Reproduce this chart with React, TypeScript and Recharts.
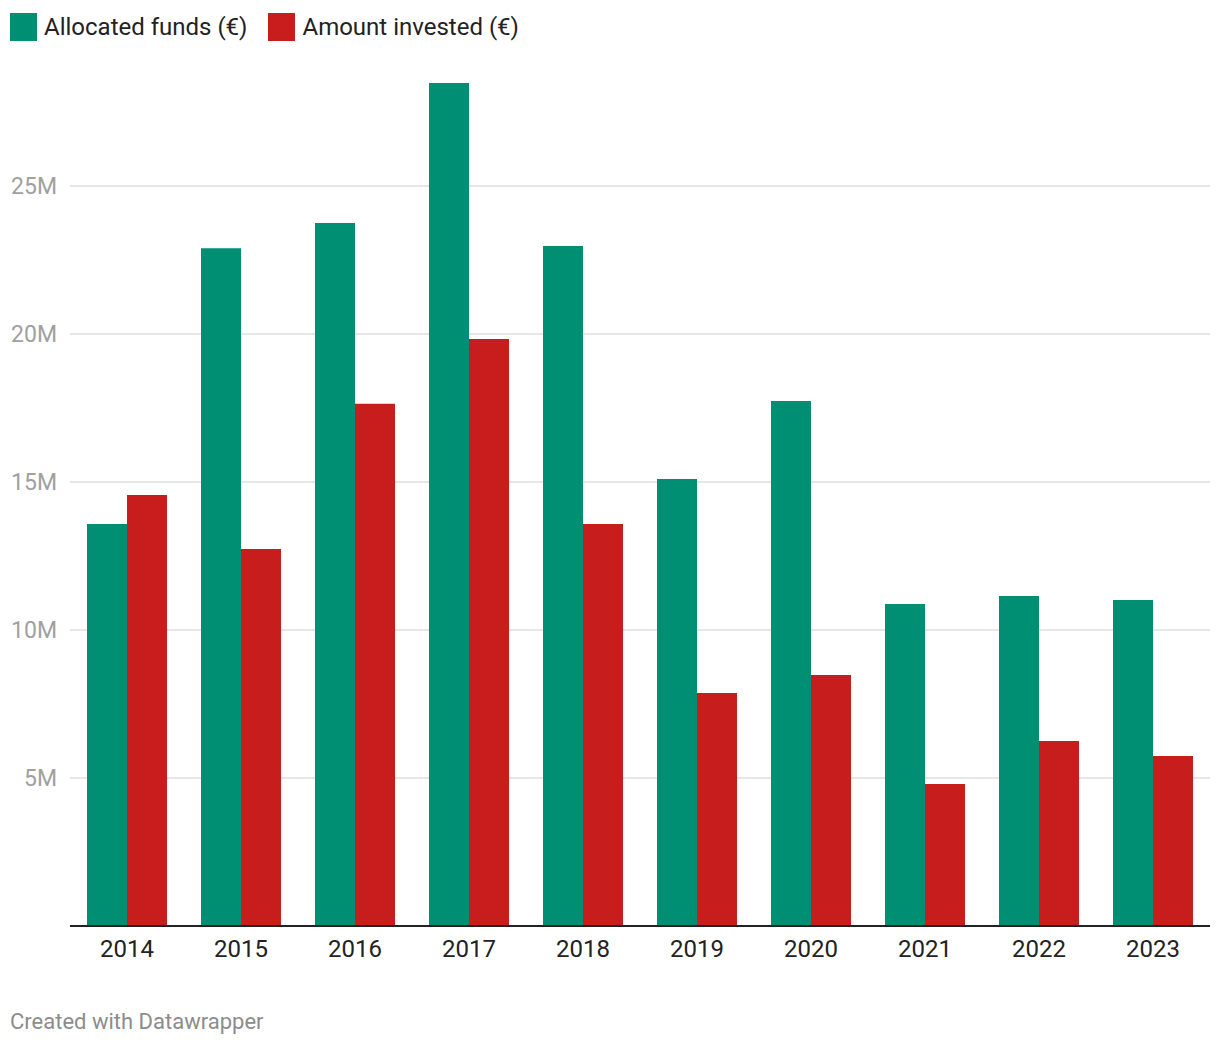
import React from 'react';
import { BarChart, Bar, XAxis, YAxis, CartesianGrid } from 'recharts';

const years = ['2014', '2015', '2016', '2017', '2018', '2019', '2020', '2021', '2022', '2023'];
const allocatedFunds = [13.58, 22.9, 23.75, 28.48, 22.97, 15.1, 17.74, 10.88, 11.15, 11.01];
const amountInvested = [14.56, 12.74, 17.64, 19.83, 13.58, 7.87, 8.48, 4.8, 6.25, 5.74];
const yTicks = [5, 10, 15, 20, 25];
const seriesNames = ['Allocated funds (€)', 'Amount invested (€)'];
const seriesColors = ['#018f73', '#c71e1d'];

const data = years.map((y, i) => ({ year: y, allocated: allocatedFunds[i], invested: amountInvested[i] }));

const FONT = 'Roboto, "Noto Sans", sans-serif';

export default function App() {
  return (
    <div style={{ position: 'absolute', top: 0, left: 0, width: 1220, height: 1048, background: '#fff', fontFamily: FONT }}>
      <div style={{ position: 'absolute', top: 13, left: 10, display: 'flex', alignItems: 'center', height: 28 }}>
        {seriesNames.map((n, i) => (
          <div key={n} style={{ display: 'flex', alignItems: 'center', marginRight: 21 }}>
            <div style={{ width: 27, height: 28, background: seriesColors[i], marginRight: 7 }} />
            <span style={{ fontSize: 24, color: '#222', lineHeight: '28px' }}>{n}</span>
          </div>
        ))}
      </div>
      <BarChart
        width={1220}
        height={1048}
        data={data}
        margin={{ top: 38, right: 10, bottom: 82, left: 0 }}
        barCategoryGap={17}
        barGap={0}
      >
        <CartesianGrid vertical={false} stroke="#e6e6e6" strokeWidth={2} syncWithTicks={true} />
        <YAxis
          width={70}
          domain={[0, 30]}
          ticks={yTicks}
          tickFormatter={(v: number) => `${v}M`}
          axisLine={false}
          tickLine={false}
          tickSize={0}
          tickMargin={13}
          tick={{ fill: '#a0a0a0', fontSize: 23, fontFamily: FONT }}
        />
        <XAxis
          dataKey="year"
          height={40}
          axisLine={{ stroke: '#222', strokeWidth: 2 }}
          tickLine={false}
          tickSize={0}
          tickMargin={14}
          tick={{ fill: '#222', fontSize: 24, fontFamily: FONT }}
        />
        <Bar dataKey="allocated" name={seriesNames[0]} fill={seriesColors[0]} isAnimationActive={false} />
        <Bar dataKey="invested" name={seriesNames[1]} fill={seriesColors[1]} isAnimationActive={false} />
      </BarChart>
      <div style={{ position: 'absolute', top: 1009, left: 10, fontSize: 22, color: '#8c8c8c', lineHeight: '26px' }}>
        Created with Datawrapper
      </div>
    </div>
  );
}
